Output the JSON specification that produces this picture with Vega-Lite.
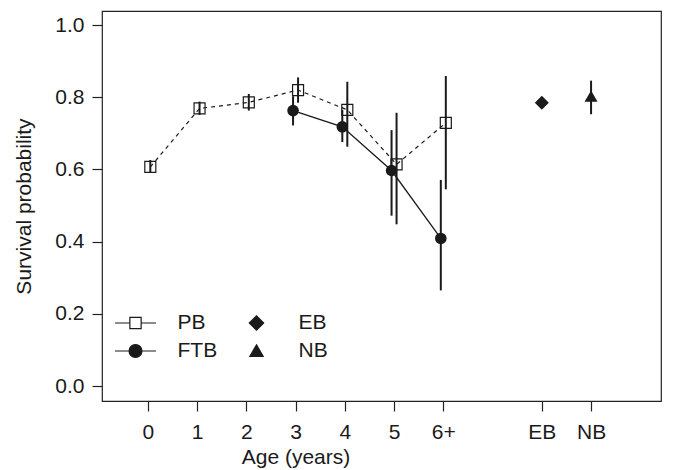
{
  "$schema": "https://vega.github.io/schema/vega-lite/v6.json",
  "width": 559,
  "height": 390,
  "autosize": {"type": "none"},
  "padding": {"left": 102, "top": 11, "right": 12, "bottom": 69},
  "background": "white",
  "config": {
    "font": "Liberation Sans",
    "view": {"stroke": "#222222", "strokeWidth": 1.2},
    "axis": {
      "grid": false,
      "domain": false,
      "tickSize": 10,
      "tickColor": "#222222",
      "tickWidth": 1.2,
      "labelFont": "Liberation Sans",
      "labelFontSize": 21,
      "labelColor": "#1a1a1a",
      "titleFont": "Liberation Sans",
      "titleFontSize": 21,
      "titleFontWeight": "normal",
      "titleColor": "#1a1a1a"
    },
    "legend": {
      "labelFont": "Liberation Sans",
      "labelFontSize": 21,
      "labelColor": "#1a1a1a"
    }
  },
  "data": {
    "values": [
      {"group": "PB", "pos": 0, "est": 0.607, "lo": 0.591, "hi": 0.626},
      {"group": "PB", "pos": 1, "est": 0.769, "lo": 0.751, "hi": 0.788},
      {"group": "PB", "pos": 2, "est": 0.786, "lo": 0.763, "hi": 0.809},
      {"group": "PB", "pos": 3, "est": 0.820, "lo": 0.785, "hi": 0.855},
      {"group": "PB", "pos": 4, "est": 0.765, "lo": 0.663, "hi": 0.843},
      {"group": "PB", "pos": 5, "est": 0.614, "lo": 0.448, "hi": 0.757},
      {"group": "PB", "pos": 6, "est": 0.729, "lo": 0.545, "hi": 0.859},
      {"group": "FTB", "pos": 3, "est": 0.763, "lo": 0.722, "hi": 0.803},
      {"group": "FTB", "pos": 4, "est": 0.718, "lo": 0.676, "hi": 0.765},
      {"group": "FTB", "pos": 5, "est": 0.597, "lo": 0.472, "hi": 0.709},
      {"group": "FTB", "pos": 6, "est": 0.409, "lo": 0.265, "hi": 0.571},
      {"group": "EB", "pos": 8, "est": 0.785, "lo": 0.776, "hi": 0.794},
      {"group": "NB", "pos": 9, "est": 0.803, "lo": 0.753, "hi": 0.846}
    ]
  },
  "encoding": {
    "x": {
      "field": "pos",
      "type": "quantitative",
      "scale": {"domain": [-0.93, 10.42], "nice": false, "zero": false},
      "axis": {
        "title": "Age (years)",
        "values": [0, 1, 2, 3, 4, 5, 6, 8, 9],
        "labelExpr": "datum.value == 6 ? '6+' : datum.value == 8 ? 'EB' : datum.value == 9 ? 'NB' : datum.label",
        "labelPadding": 10,
        "labelFlush": false,
        "titleX": 193.5,
        "titleY": 56.5,
        "titleBaseline": "middle",
        "titleAnchor": "middle",
        "titleAlign": "center"
      }
    },
    "y": {
      "field": "est",
      "type": "quantitative",
      "title": "Survival probability",
      "scale": {"domain": [-0.0415, 1.039], "nice": false, "zero": false},
      "axis": {
        "values": [0, 0.2, 0.4, 0.6, 0.8, 1.0],
        "format": ".1f",
        "labelPadding": 8,
        "labelFlush": false,
        "titlePadding": 20
      }
    }
  },
  "layer": [
    {
      "transform": [{"filter": "datum.group === 'PB'"}],
      "mark": {"type": "line", "color": "#1a1a1a", "strokeWidth": 1.2, "strokeDash": [4, 4], "xOffset": 2.5}
    },
    {
      "transform": [{"filter": "datum.group === 'FTB'"}],
      "mark": {"type": "line", "color": "#1a1a1a", "strokeWidth": 1.3, "xOffset": -2.5}
    },
    {
      "transform": [{"filter": "datum.group === 'PB'"}],
      "mark": {"type": "rule", "color": "#1a1a1a", "strokeWidth": 2, "xOffset": 2.5},
      "encoding": {
        "y": {"field": "lo", "type": "quantitative", "title": "Survival probability"},
        "y2": {"field": "hi"}
      }
    },
    {
      "transform": [{"filter": "datum.group === 'FTB'"}],
      "mark": {"type": "rule", "color": "#1a1a1a", "strokeWidth": 2, "xOffset": -2.5},
      "encoding": {
        "y": {"field": "lo", "type": "quantitative", "title": "Survival probability"},
        "y2": {"field": "hi"}
      }
    },
    {
      "transform": [{"filter": "datum.group === 'EB' || datum.group === 'NB'"}],
      "mark": {"type": "rule", "color": "#1a1a1a", "strokeWidth": 2},
      "encoding": {
        "y": {"field": "lo", "type": "quantitative", "title": "Survival probability"},
        "y2": {"field": "hi"}
      }
    },
    {
      "transform": [{"filter": "datum.group === 'PB'"}],
      "mark": {"type": "point", "shape": "square", "filled": false, "stroke": "#1a1a1a", "strokeWidth": 1.2, "size": 121, "opacity": 1, "xOffset": 2.5}
    },
    {
      "transform": [{"filter": "datum.group === 'FTB'"}],
      "mark": {"type": "point", "shape": "circle", "filled": true, "color": "#1a1a1a", "size": 133, "opacity": 1, "xOffset": -2.5}
    },
    {
      "transform": [{"filter": "datum.group === 'EB'"}],
      "mark": {"type": "point", "shape": "diamond", "filled": true, "color": "#1a1a1a", "size": 196, "opacity": 1}
    },
    {
      "transform": [{"filter": "datum.group === 'NB'"}],
      "mark": {"type": "point", "shape": "triangle-up", "filled": true, "color": "#1a1a1a", "size": 169, "opacity": 1}
    },
    {
      "mark": {"type": "point", "opacity": 0, "size": 1, "strokeWidth": 1.2},
      "encoding": {
        "shape": {
          "field": "group",
          "type": "nominal",
          "scale": {
            "domain": ["PB", "FTB", "EB", "NB"],
            "range": [
              "M-2,0H-0.55M0.55,0H2M-0.55,-0.55H0.55V0.55H-0.55Z",
              "M-2,0H2M-0.63,0A0.63,0.63,0,1,1,0.63,0A0.63,0.63,0,1,1,-0.63,0Z",
              "M-0.7,0L0,-0.7L0.7,0L0,0.7Z",
              "M0,-0.6L0.65,0.53L-0.65,0.53Z"
            ]
          },
          "legend": {
            "title": null,
            "orient": "none",
            "legendX": 22.5,
            "legendY": 301,
            "columns": 2,
            "columnPadding": 28,
            "rowPadding": 7,
            "padding": 0,
            "symbolSize": 420,
            "symbolOpacity": 1,
            "symbolStrokeColor": "#1a1a1a",
            "symbolStrokeWidth": 1.2,
            "labelOffset": 31
          }
        },
        "fill": {
          "field": "group",
          "type": "nominal",
          "scale": {"domain": ["PB", "FTB", "EB", "NB"], "range": ["white", "#1a1a1a", "#1a1a1a", "#1a1a1a"]},
          "legend": {"title": null}
        },
        "stroke": {
          "field": "group",
          "type": "nominal",
          "scale": {"domain": ["PB", "FTB", "EB", "NB"], "range": ["#1a1a1a", "#1a1a1a", "#1a1a1a", "#1a1a1a"]},
          "legend": {"title": null}
        }
      }
    },
    {
      "data": {"values": [{"label": "State"}]},
      "mark": {"type": "text", "font": "Liberation Sans", "fontSize": 21, "color": "#1a1a1a", "align": "center", "baseline": "middle"},
      "encoding": {
        "x": {"datum": 8.5, "type": "quantitative"},
        "y": {"datum": -0.198, "type": "quantitative"},
        "text": {"field": "label"}
      }
    }
  ]
}
